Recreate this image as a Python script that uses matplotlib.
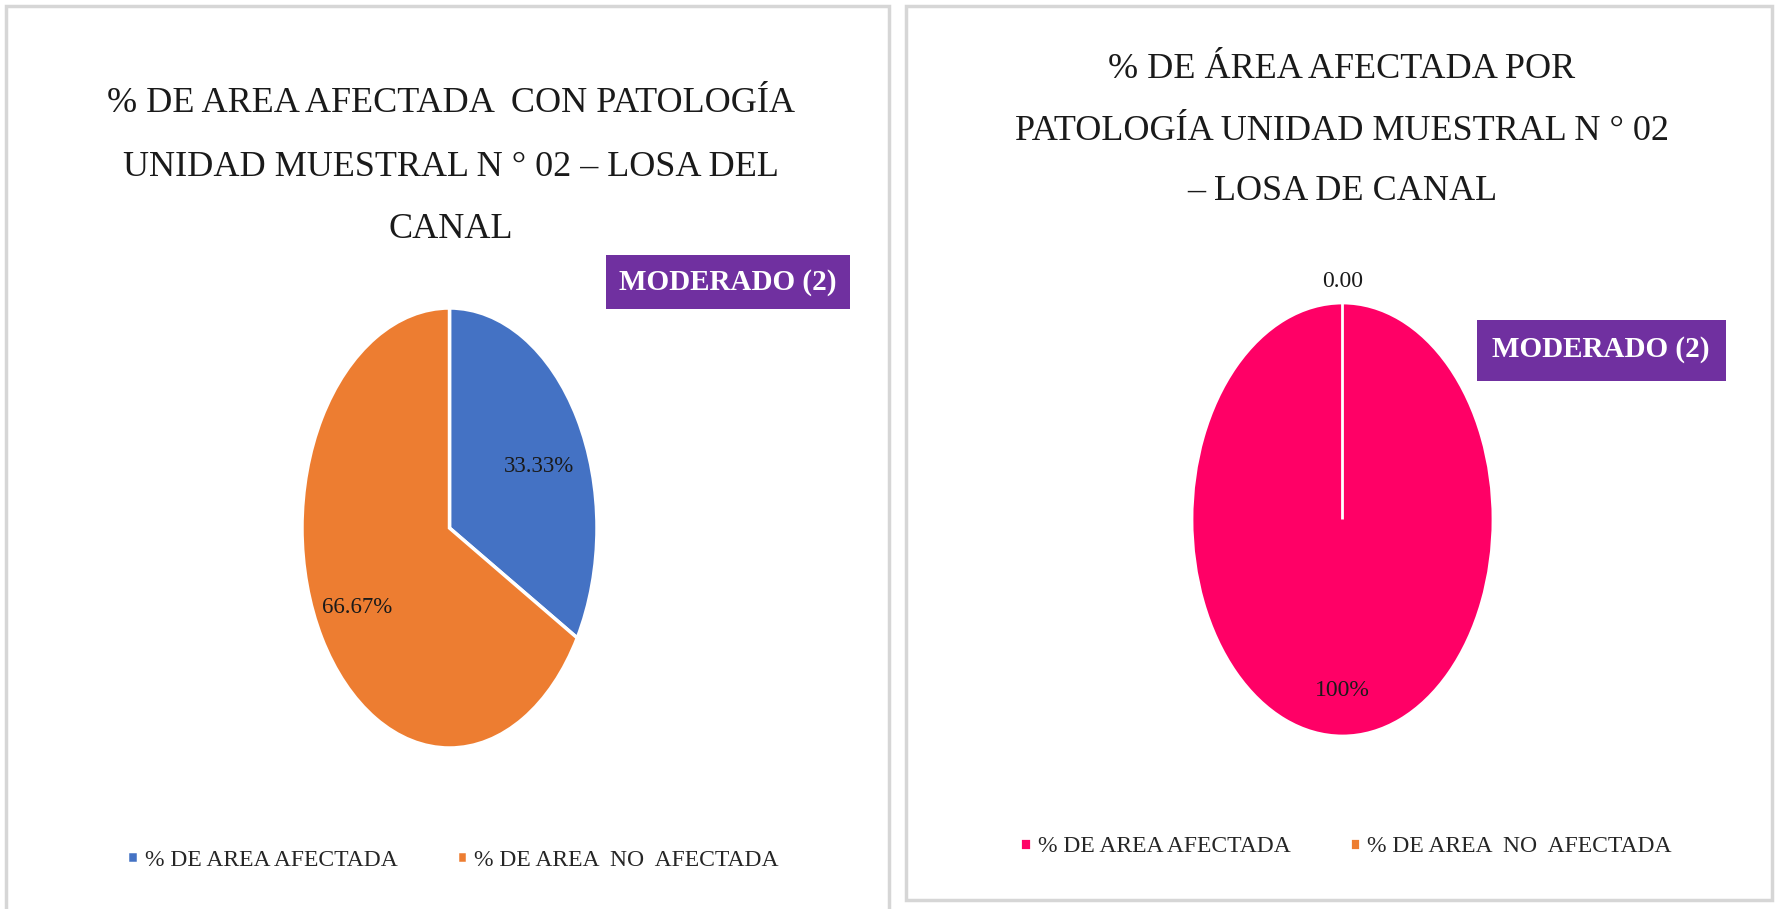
import matplotlib
matplotlib.use("Agg")
import matplotlib.pyplot as plt
from matplotlib.patches import Rectangle

# data
categorias = ["% DE AREA AFECTADA", "% DE AREA  NO  AFECTADA"]
valores_izq = [33.33, 66.67]
valores_der = [100, 0]
etiquetas_der = ["100%", "0.00"]
colores_izq = ["#4472C4", "#ED7D31"]
colores_der = ["#FF0066", "#ED7D31"]
titulo_izq = ["% DE AREA AFECTADA  CON PATOLOGÍA",
              "UNIDAD MUESTRAL N ° 02 – LOSA DEL",
              "CANAL"]
titulo_der = ["% DE ÁREA AFECTADA POR",
              "PATOLOGÍA UNIDAD MUESTRAL N ° 02",
              "– LOSA DE CANAL"]
nivel = "MODERADO (2)"

W, H = 1775, 909
plt.rcParams['font.family'] = ['Liberation Serif', 'DejaVu Serif']

fig = plt.figure(figsize=(W / 100, H / 100), dpi=100)
fig.patch.set_facecolor("white")

def fx(px):
	return px / W

def fy(py):
	return 1 - py / H

def caja(x0, y0, x1, y1, **kw):
	# rectangle given in pixels, y measured from the top
	r = Rectangle((fx(x0), fy(y1)), fx(x1) - fx(x0), fy(y0) - fy(y1),
	              transform=fig.transFigure, **kw)
	fig.patches.append(r)
	return r

# panel borders (behind the axes)
caja(6, 6, 889, 915, facecolor="white", edgecolor="#d6d6d6", lw=2.5, zorder=-5)
caja(906, 6, 1772, 900, facecolor="white", edgecolor="#d6d6d6", lw=2.5, zorder=-5)

# titles
for i, linea in enumerate(titulo_izq):
	fig.text(fx(451), fy(104 + 63 * i), linea, ha="center", va="center",
	         fontsize=26, color="#1a1a1a")
for i, linea in enumerate(titulo_der):
	fig.text(fx(1342), fy(70 + 61 * i), linea, ha="center", va="center",
	         fontsize=26, color="#1a1a1a")

# left pie (stretched ellipse like the original)
ax1 = fig.add_axes([fx(302), fy(748), fx(597) - fx(302), fy(308) - fy(748)])
w1, t1, a1 = ax1.pie(valores_izq, colors=colores_izq, startangle=90, counterclock=False,
                     autopct="%.2f%%", pctdistance=0.72,
                     wedgeprops=dict(edgecolor="white", linewidth=2.5),
                     textprops=dict(fontsize=16.5, color="#1a1a1a"))
ax1.set_aspect("auto")
ax1.set_xlim(-1, 1)
ax1.set_ylim(-1, 1)
ax1.axis("off")
# excel puts the small-slice label a bit lower
x, y = a1[0].get_position()
a1[0].set_position((x * 0.97, y * 0.78))

# right pie
ax2 = fig.add_axes([fx(1192), fy(736), fx(1493) - fx(1192), fy(303) - fy(736)])
w2, t2, a2 = ax2.pie(valores_der, colors=colores_der, startangle=90, counterclock=False,
                     autopct="%.2f", pctdistance=0.79,
                     wedgeprops=dict(edgecolor="white", linewidth=2),
                     textprops=dict(fontsize=17, color="#1a1a1a"))
ax2.set_aspect("auto")
ax2.set_xlim(-1, 1)
ax2.set_ylim(-1, 1)
ax2.axis("off")
for t, s in zip(a2, etiquetas_der):
	t.set_text(s)
# the zero slice label sits just outside the top of the pie
x, y = a2[1].get_position()
a2[1].set_position((x * 1.12 / 0.79, y * 1.10 / 0.79))

# level boxes
caja(606, 255, 850, 309, facecolor="#7030A0", edgecolor="none", zorder=5)
fig.text(fx(728), fy(282), nivel, ha="center", va="center", fontsize=21,
         fontweight="bold", color="white", zorder=6)
caja(1477, 320, 1726, 381, facecolor="#7030A0", edgecolor="none", zorder=5)
fig.text(fx(1601), fy(350), nivel, ha="center", va="center", fontsize=21,
         fontweight="bold", color="white", zorder=6)

# legends
ax1.legend(w1, categorias, loc="center", bbox_to_anchor=(fx(453), fy(860)),
           bbox_transform=fig.transFigure, ncol=2, frameon=False, fontsize=17,
           handlelength=0.45, handleheight=0.45, handletextpad=0.3, columnspacing=2.5,
           labelcolor="#262626")
ax2.legend(w2, categorias, loc="center", bbox_to_anchor=(fx(1346), fy(847)),
           bbox_transform=fig.transFigure, ncol=2, frameon=False, fontsize=17,
           handlelength=0.45, handleheight=0.45, handletextpad=0.3, columnspacing=2.5,
           labelcolor="#262626")

fig.savefig("out.png", dpi=100)
